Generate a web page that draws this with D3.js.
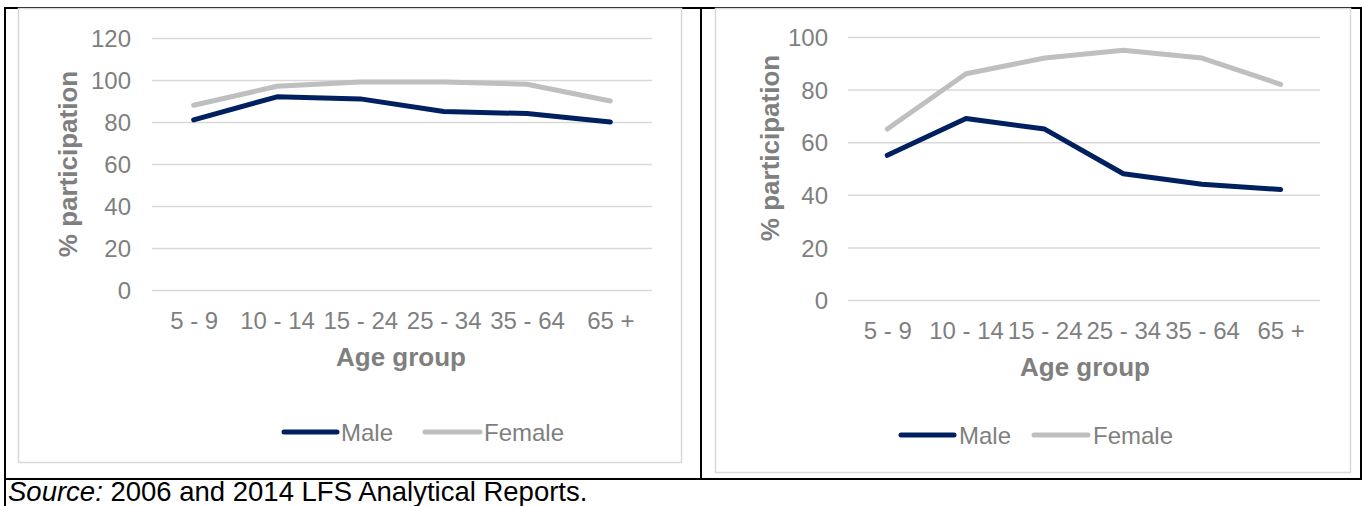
<!DOCTYPE html>
<html>
<head>
<meta charset="utf-8">
<script src="https://cdn.jsdelivr.net/npm/d3@7"></script>
<style>
  html, body { margin: 0; padding: 0; background: #fff; }
  svg { display: block; }
  text { font-family: "Liberation Sans", Arial, sans-serif; }
</style>
</head>
<body>
<svg id="chart" width="1362" height="506"></svg>
<script>
// ---- Data ----
const ageGroups = ["5 - 9", "10 - 14", "15 - 24", "25 - 34", "35 - 64", "65 +"];
const seriesNames = ["Male", "Female"];
// Left panel (2006)
const male2006 = [81, 92, 91, 85, 84, 80];
const female2006 = [88, 97, 99, 99, 98, 90];
// Right panel (2014)
const male2014 = [55, 69, 65, 48, 44, 42];
const female2014 = [65, 86, 92, 95, 92, 82];
const leftYTicks = [0, 20, 40, 60, 80, 100, 120];
const rightYTicks = [0, 20, 40, 60, 80, 100];
const yTitle = "% participation";
const xTitle = "Age group";
const sourceLabel = "Source:";
const sourceText = " 2006 and 2014 LFS Analytical Reports.";

// ---- Styles ----
const colors = { Male: "#002060", Female: "#bfbfbf" };
const textGray = "#7f7f7f";
const gridGray = "#d9d9d9";

const svg = d3.select("#chart");

// Table borders
const borders = svg.append("g").attr("stroke", "#000").attr("stroke-width", 2);
borders.append("line").attr("x1", 4).attr("x2", 1362).attr("y1", 8).attr("y2", 8);
borders.append("line").attr("x1", 5).attr("x2", 5).attr("y1", 7).attr("y2", 506);
borders.append("line").attr("x1", 701).attr("x2", 701).attr("y1", 7).attr("y2", 480);
borders.append("line").attr("x1", 1361).attr("x2", 1361).attr("y1", 7).attr("y2", 480);
borders.append("line").attr("x1", 4).attr("x2", 1362).attr("y1", 479).attr("y2", 479);

function panel(cfg) {
  const g = svg.append("g");
  g.append("rect")
    .attr("x", cfg.frame[0] + 0.5).attr("y", cfg.frame[1] + 0.5)
    .attr("width", cfg.frame[2] - cfg.frame[0]).attr("height", cfg.frame[3] - cfg.frame[1])
    .attr("fill", "#fff").attr("stroke", gridGray).attr("stroke-width", 1.5);

  const x = d3.scalePoint().domain(ageGroups).range(cfg.xRange).padding(0.5);
  const y = d3.scaleLinear().domain(cfg.yDomain).range(cfg.yRange);

  // Y axis with gridlines
  const yAxis = d3.axisLeft(y).tickValues(cfg.yTicks)
    .tickSize(-(cfg.xRange[1] - cfg.xRange[0])).tickPadding(cfg.yPad);
  const ya = g.append("g").attr("transform", `translate(${cfg.xRange[0]},0)`).call(yAxis);
  ya.select(".domain").remove();
  ya.selectAll(".tick line").attr("stroke", gridGray).attr("stroke-width", 1.5);
  ya.selectAll(".tick text").attr("fill", textGray)
    .style("font-size", cfg.tickFont + "px").attr("dy", "0.36em");

  // X axis
  const xAxis = d3.axisBottom(x).tickSize(0).tickPadding(0);
  const xa = g.append("g").attr("transform", `translate(0,${cfg.yRange[0]})`).call(xAxis);
  xa.select(".domain").remove();
  xa.selectAll(".tick text").attr("fill", textGray)
    .style("font-size", cfg.tickFont + "px")
    .attr("y", cfg.xLabelOffset).attr("dy", "0.36em");

  // Axis titles
  g.append("text")
    .attr("transform", `translate(${cfg.yTitlePos[0]},${cfg.yTitlePos[1]}) rotate(-90)`)
    .attr("text-anchor", "middle").attr("dy", "0.36em")
    .attr("fill", textGray).style("font-size", cfg.titleFont + "px").style("font-weight", "bold")
    .text(yTitle);
  g.append("text")
    .attr("x", cfg.xTitlePos[0]).attr("y", cfg.xTitlePos[1])
    .attr("text-anchor", "middle").attr("dy", "0.36em")
    .attr("fill", textGray).style("font-size", cfg.titleFont + "px").style("font-weight", "bold")
    .text(xTitle);

  // Lines
  const line = d3.line().x((d, i) => x(ageGroups[i])).y(d => y(d));
  const data = [
    { name: "Female", values: cfg.female },
    { name: "Male", values: cfg.male }
  ];
  g.selectAll("path.series").data(data).join("path")
    .attr("class", "series")
    .attr("d", d => line(d.values))
    .attr("fill", "none")
    .attr("stroke", d => colors[d.name])
    .attr("stroke-width", 5)
    .attr("stroke-linecap", "round")
    .attr("stroke-linejoin", "round");

  // Legend
  const lg = g.append("g");
  seriesNames.forEach((name, i) => {
    const it = cfg.legend[i];
    lg.append("line")
      .attr("x1", it[0]).attr("x2", it[1]).attr("y1", cfg.legendY).attr("y2", cfg.legendY)
      .attr("stroke", colors[name]).attr("stroke-width", 5).attr("stroke-linecap", "round");
    lg.append("text")
      .attr("x", it[2]).attr("y", cfg.legendY).attr("dy", "0.36em")
      .attr("fill", textGray).style("font-size", cfg.legendFont + "px")
      .text(name);
  });
}

panel({
  frame: [18, 8, 681, 462],
  xRange: [152, 652], yRange: [290, 38], yDomain: [0, 120], yTicks: leftYTicks,
  yPad: 21, xLabelOffset: 30, tickFont: 24, titleFont: 26, legendFont: 24,
  yTitlePos: [68, 164], xTitlePos: [401, 357],
  legendY: 432, legend: [[284, 337, 341], [425, 480, 484]],
  male: male2006, female: female2006
});

panel({
  frame: [715, 8, 1350, 472],
  xRange: [848, 1320], yRange: [300, 37], yDomain: [0, 100], yTicks: rightYTicks,
  yPad: 20, xLabelOffset: 30, tickFont: 24, titleFont: 26, legendFont: 24,
  yTitlePos: [770, 148], xTitlePos: [1085, 367],
  legendY: 435, legend: [[901, 954, 959], [1034, 1088, 1093]],
  male: male2014, female: female2014
});

// Source note
const src = svg.append("text").attr("x", 8).attr("y", 501)
  .attr("fill", "#000").style("font-size", "27.5px");
src.append("tspan").style("font-style", "italic").text(sourceLabel);
src.append("tspan").text(sourceText);
</script>
</body>
</html>
